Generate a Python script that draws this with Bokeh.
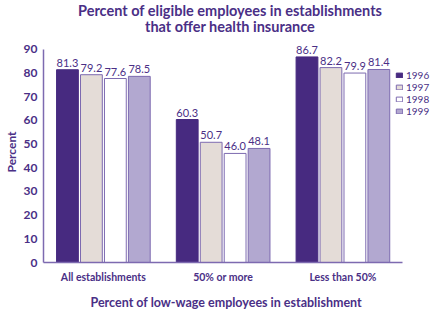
from bokeh.plotting import figure
from bokeh.models import Range1d, FixedTicker, Legend, LegendItem, ColumnDataSource, Title
from bokeh.core.properties import value
from bokeh.embed import file_html
from bokeh.resources import INLINE

categories = ["All establishments", "50% or more", "Less than 50%"]
years = ["1996", "1997", "1998", "1999"]
values = {
    "1996": [81.3, 60.3, 86.7],
    "1997": [79.2, 50.7, 82.2],
    "1998": [77.6, 46.0, 79.9],
    "1999": [78.5, 48.1, 81.4],
}
y_ticks = [0, 10, 20, 30, 40, 50, 60, 70, 80, 90]
title_lines = ["Percent of eligible employees in establishments", "that offer health insurance"]
x_title = "Percent of low-wage employees in establishment"
y_title = "Percent"

colors = ["#472a80", "#e4dcd7", "#ffffff", "#b2a8d0"]
offsets = [-0.3, -0.1, 0.1, 0.3]
TXT = "#4a2f86"
AX = "#7d6ab0"
FONT = "Lato"

p = figure(width=435, height=327, output_backend="svg", toolbar_location=None,
           x_range=Range1d(0, 3.273), y_range=Range1d(0, 110.5),
           min_border_left=40, min_border_right=0, min_border_top=0, min_border_bottom=65)
p.outline_line_color = None
p.xgrid.visible = False
p.ygrid.visible = False
p.background_fill_color = "white"

items = []
for i, yr in enumerate(years):
    xs = [k + 0.5 + offsets[i] for k in range(len(categories))]
    src = ColumnDataSource(dict(x=xs, top=values[yr], lab=["%.1f" % v for v in values[yr]]))
    r = p.vbar(x="x", top="top", width=0.182, source=src, fill_color=colors[i],
               line_color=AX if i > 0 else colors[0], line_width=1)
    p.text(x="x", y="top", text="lab", source=src, text_align="center", text_baseline="bottom",
           y_offset=-3, text_font=value(FONT), text_font_size="11px", text_color=TXT)
    items.append(LegendItem(label=yr, renderers=[r]))

# title lines inside frame (frame spans the whole canvas height above the axis)
p.text(x=[1.558, 1.558], y=[106.3, 99.6], text=title_lines, text_align="center",
       text_baseline="middle", text_font=value(FONT), text_font_style="bold",
       text_font_size="14.5px", text_color=TXT)

legend = Legend(items=items, location=(352, 145), orientation="vertical",
                glyph_width=8, glyph_height=6, label_height=12, spacing=0, padding=0,
                margin=0, label_standoff=3, label_text_font=FONT, label_text_font_size="10px",
                label_text_color=TXT, border_line_color=None, background_fill_alpha=0)
p.add_layout(legend)

# axis titles placed so they are centred on the drawn axes
p.add_layout(Title(text=x_title, align="left", offset=47, standoff=14,
                   text_font=FONT, text_font_style="bold", text_font_size="12.5px",
                   text_color=TXT), "below")
p.add_layout(Title(text=y_title, align="left", offset=90, standoff=3,
                   text_font=FONT, text_font_style="bold", text_font_size="12px",
                   text_color=TXT), "left")

# axes
p.yaxis.bounds = (0, 90)
p.yaxis.ticker = FixedTicker(ticks=y_ticks)
p.yaxis.major_label_text_font = FONT
p.yaxis.major_label_text_font_style = "bold"
p.yaxis.major_label_text_font_size = "12px"
p.yaxis.major_label_text_color = TXT
p.yaxis.major_label_standoff = 6

p.xaxis.bounds = (0, 3)
p.xaxis.ticker = FixedTicker(ticks=[k + 0.5 for k in range(len(categories))])
p.xaxis.major_label_overrides = {k + 0.5: c for k, c in enumerate(categories)}
p.xaxis.major_label_text_font = FONT
p.xaxis.major_label_text_font_style = "bold"
p.xaxis.major_label_text_font_size = "10.5px"
p.xaxis.major_label_text_color = TXT
p.xaxis.major_label_standoff = 8

for ax in (p.xaxis, p.yaxis):
    ax.axis_line_color = AX
    ax.axis_line_width = 1.5
    ax.major_tick_line_color = None
    ax.minor_tick_line_color = None
    ax.major_tick_out = 0
    ax.major_tick_in = 0
    ax.minor_tick_out = 0
    ax.minor_tick_in = 0

open("out.html", "w").write(file_html(p, INLINE))
